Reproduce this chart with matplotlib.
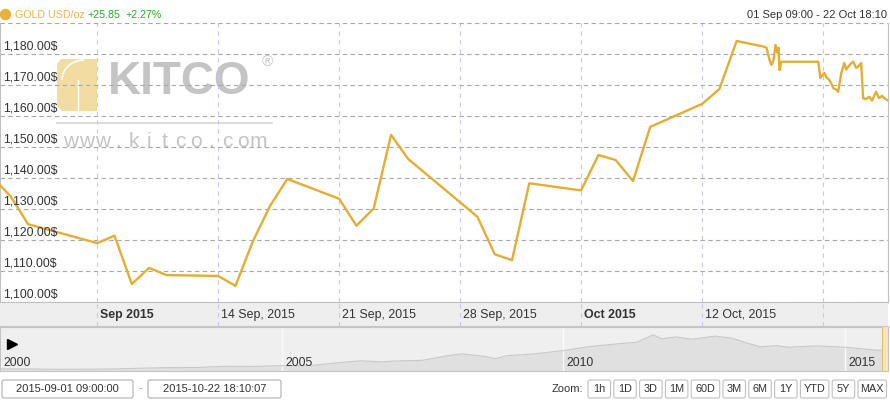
import matplotlib
matplotlib.use('Agg')
import matplotlib.pyplot as plt
import pandas as pd
from matplotlib.patches import FancyBboxPatch, Polygon, Circle, Arc
from matplotlib.transforms import ScaledTranslation, blended_transform_factory

plt.rcParams['font.family'] = ['Liberation Sans', 'DejaVu Sans']

# gold price, 01 Sep - 22 Oct 2015 (daily closes, then intraday)
price_times = [
    "2015-09-01 09:00", "2015-09-02", "2015-09-03", "2015-09-07", "2015-09-08",
    "2015-09-09", "2015-09-10", "2015-09-11", "2015-09-14", "2015-09-15",
    "2015-09-16", "2015-09-17", "2015-09-18", "2015-09-21", "2015-09-22",
    "2015-09-23", "2015-09-24", "2015-09-25", "2015-09-29", "2015-09-30",
    "2015-10-01", "2015-10-02", "2015-10-05", "2015-10-06", "2015-10-07",
    "2015-10-08", "2015-10-09", "2015-10-12", "2015-10-13", "2015-10-14",
    "2015-10-15 13:20", "2015-10-15 17:30", "2015-10-15 21:40", "2015-10-16 00:20",
    "2015-10-16 03:10", "2015-10-16 06:00", "2015-10-16 08:50", "2015-10-16 10:10",
    "2015-10-16 11:30", "2015-10-16 14:10", "2015-10-18 17:25", "2015-10-18 20:10",
    "2015-10-19 01:50", "2015-10-19 04:30", "2015-10-19 08:35", "2015-10-19 11:25",
    "2015-10-19 14:10", "2015-10-19 18:20", "2015-10-19 21:00", "2015-10-20 01:20",
    "2015-10-20 05:25", "2015-10-20 08:05", "2015-10-20 10:55", "2015-10-20 15:00",
    "2015-10-20 17:50", "2015-10-20 22:00", "2015-10-21 00:40", "2015-10-21 04:55",
    "2015-10-21 07:35", "2015-10-21 11:50", "2015-10-21 15:55", "2015-10-21 20:05",
    "2015-10-22 01:35", "2015-10-22 05:40", "2015-10-22 10:00", "2015-10-22 12:40",
    "2015-10-22 18:10",
]
prices = [
    1137.7, 1134.0, 1125.1, 1119.0, 1121.4,
    1105.8, 1111.0, 1108.7, 1108.4, 1105.2,
    1119.5, 1131.0, 1139.7, 1133.3, 1124.6,
    1130.2, 1153.9, 1146.1, 1127.5, 1115.4,
    1113.5, 1138.3, 1136.0, 1147.4, 1145.8,
    1139.0, 1156.5, 1163.9, 1168.7, 1184.2,
    1182.4, 1182.0, 1178.0, 1176.5,
    1178.0, 1182.9, 1180.3, 1182.0,
    1174.8, 1177.5, 1177.5, 1172.3,
    1173.9, 1172.5, 1171.6, 1170.5,
    1169.0, 1168.5, 1167.8, 1173.9,
    1177.1, 1175.0, 1175.9, 1177.0,
    1177.5, 1175.5, 1175.9, 1177.1,
    1165.7, 1165.5, 1166.2, 1165.0,
    1167.8, 1165.8, 1166.5, 1165.8,
    1165.0,
]

y_ticks = [1100, 1110, 1120, 1130, 1140, 1150, 1160, 1170, 1180, 1190]
week_ticks = ["2015-09-07", "2015-09-14", "2015-09-21", "2015-09-28",
              "2015-10-05", "2015-10-12", "2015-10-19"]
week_labels = ["Sep 2015", "14 Sep, 2015", "21 Sep, 2015", "28 Sep, 2015",
               "Oct 2015", "12 Oct, 2015", ""]

# navigator: long-term history
nav_years = [2000.0, 2000.5, 2001.0, 2001.5, 2002.0, 2002.5, 2003.0, 2003.5,
             2004.0, 2004.5, 2005.0, 2005.5, 2006.0, 2006.4, 2006.8, 2007.0,
             2007.5, 2008.0, 2008.2, 2008.6, 2008.8, 2009.0, 2009.5, 2010.0,
             2010.5, 2011.0, 2011.3, 2011.6, 2011.75, 2012.0, 2012.3, 2012.7,
             2013.0, 2013.3, 2013.5, 2013.8, 2014.0, 2014.5, 2015.0, 2015.3,
             2015.6, 2015.8]
nav_prices = [285, 285, 265, 270, 280, 315, 345, 350,
              400, 395, 430, 430, 560, 650, 600, 640,
              670, 900, 960, 850, 740, 880, 960, 1110,
              1300, 1420, 1480, 1820, 1640, 1720, 1620, 1760,
              1670, 1420, 1280, 1330, 1260, 1320, 1260, 1190,
              1120, 1160]
nav_ticks = [2000, 2005, 2010, 2015]

zoom_buttons = ["1h", "1D", "3D", "1M", "60D", "3M", "6M", "1Y", "YTD", "5Y", "MAX"]

GOLD = '#e5ae33'
TXT = '#333333'
W, H = 890, 400


def fbox(x0, y0, x1, y1):
    return [x0 / W, 1 - y1 / H, (x1 - x0) / W, (y1 - y0) / H]


fig = plt.figure(figsize=(8.9, 4), dpi=100)

# overlay for header / watermark / controls (pixel coordinates)
ui = fig.add_axes([0, 0, 1, 1])
ui.set_xlim(0, W)
ui.set_ylim(H, 0)
ui.axis('off')
ui.set_zorder(0)

ui.add_patch(Circle((5.5, 14.5), 5, color='#e8b33a'))
ui.text(15, 15, "GOLD USD/oz", color='#e8b74a', fontsize=7.7, va='center')
ui.text(87, 15, "+25.85", color='#22b022', fontsize=7.7, va='center')
ui.text(125, 15, "+2.27%", color='#22b022', fontsize=7.7, va='center')
ui.text(887, 14.5, "01 Sep 09:00 - 22 Oct 18:10", color=TXT, fontsize=8,
        va='center', ha='right')

# watermark
ui.add_patch(Polygon([(61, 59), (97, 59), (97, 111), (62, 111), (57, 106), (57, 64)],
                     closed=True, color='#f3dca2', lw=0))
ui.add_patch(Arc((84, 80), 44, 40, theta1=180, theta2=270, color='white', lw=1.2))
ui.plot([78, 78], [80, 111], color='white', lw=1.0)
ui.text(108, 93.5, "KITCO", color='#c4c4c4', fontsize=33, fontweight='bold',
        va='baseline', ha='left')
ui.text(262, 62, "\u00ae", color='#c6c6c6', fontsize=11, va='center', ha='left')
ui.plot([57, 272], [123, 123], color='#d6d6d6', lw=1.2)
for i, ch in enumerate("www.kitco.com"):
    ui.text(71 + i * 15.6, 147, ch, color='#c4c4c4', fontsize=15,
            va='baseline', ha='center')

# bottom controls
for (x0, x1), txt in [((2, 133), "2015-09-01 09:00:00"), ((148, 281), "2015-10-22 18:10:07")]:
    ui.add_patch(FancyBboxPatch((x0, 380), x1 - x0, 18, boxstyle='round,pad=0,rounding_size=2',
                                fc='white', ec='#b0b0b0', lw=0.8))
    ui.text((x0 + x1) / 2, 389.5, txt, fontsize=8, color=TXT, ha='center', va='center')
ui.text(140.5, 388, "-", fontsize=8, color='#999999', ha='center', va='center')
ui.text(583, 389.5, "Zoom:", fontsize=8, color=TXT, ha='right', va='center')
bx0 = 588
for b in zoom_buttons:
    bw = 28.5 if len(b) == 3 else 22.5
    ui.add_patch(FancyBboxPatch((bx0, 380), bw, 18, boxstyle='round,pad=0,rounding_size=2',
                                fc='white', ec='#c0c0c0', lw=0.8))
    ui.text(bx0 + bw / 2, 389.5, b, fontsize=7.8, color=TXT, ha='center', va='center')
    bx0 += bw + 3.3

# main chart
t = pd.to_datetime(price_times, format='mixed')
wt = pd.to_datetime(week_ticks)
ax = fig.add_axes(fbox(0, 23, 888, 302))
ax.set_zorder(2)
ax.patch.set_alpha(0)
ax.plot(t, prices, color=GOLD, lw=1.7, solid_joinstyle='round', zorder=3)
ax.set_xlim(pd.Timestamp("2015-09-01 09:00"), pd.Timestamp("2015-10-22 18:10"))
ax.set_ylim(1100, 1190)
ax.set_yticks(y_ticks)
ax.set_xticks(wt)
ax.yaxis.grid(True, color='#a8a8a8', ls=(0, (4, 3)), lw=0.8)
ax.xaxis.grid(True, color='#c8c8f2', ls=(0, (4, 4)), lw=0.8)
ax.tick_params(length=0, labelbottom=False, labelleft=False)
ax.spines['top'].set_visible(False)
for s in ['left', 'right', 'bottom']:
    ax.spines[s].set_color('#c0c0c0')
    ax.spines[s].set_linewidth(0.8)

ylab_tr = blended_transform_factory(ax.transAxes, ax.transData) + \
    ScaledTranslation(0.03, 0.08, fig.dpi_scale_trans)
for v in y_ticks[:-1]:
    ax.text(0, v, f"{v:,.2f}$", transform=ylab_tr, fontsize=8.8, color=TXT,
            ha='left', va='center')

# x label band
band = fig.add_axes(fbox(0, 302, 888, 326), sharex=ax)
band.set_facecolor('#eeeeee')
band.set_ylim(0, 1)
band.set_yticks([])
band.xaxis.grid(True, color='#c8c8f2', ls=(0, (4, 4)), lw=0.8)
band.tick_params(length=0, labelbottom=False)
for s in ['top', 'left', 'right']:
    band.spines[s].set_visible(False)
band.spines['bottom'].set_color('#c8c8c8')
xlab_tr = blended_transform_factory(band.transData, band.transAxes) + \
    ScaledTranslation(0.03, 0, fig.dpi_scale_trans)
for d, lab in zip(wt, week_labels):
    bold = not lab.split()[0].isdigit() if lab else False
    band.text(d, 0.47, lab, transform=xlab_tr, fontsize=8.9, color=TXT,
              ha='left', va='center', fontweight='bold' if bold else 'normal')

# navigator
nav = fig.add_axes(fbox(0, 327, 888, 371))
nav.set_facecolor('#efefef')
nav.fill_between(nav_years, nav_prices, 0, color='#e0e0e0', lw=0)
nav.plot(nav_years, nav_prices, color='#c8c8c8', lw=0.8)
nav.set_xlim(2000, 2015.77)
nav.set_ylim(190, 2170)
nav.set_xticks(nav_ticks)
nav.xaxis.grid(True, color='#fafafa', lw=1)
nav.tick_params(length=0, labelbottom=False, labelleft=False)
nav.set_yticks([])
for s in ['top', 'left', 'right', 'bottom']:
    nav.spines[s].set_color('#c4c4c4')
    nav.spines[s].set_linewidth(0.8)
nav.axvspan(2015.668, 2015.8, color='#f8e4b4', zorder=4)
nav.axvline(2015.668, color='#e2bd6a', lw=0.8, zorder=5)
nlab_tr = blended_transform_factory(nav.transData, nav.transAxes) + \
    ScaledTranslation(0.035, 0, fig.dpi_scale_trans)
for yr in nav_ticks:
    nav.text(yr, 0.18, str(yr), transform=nlab_tr, fontsize=8.8, color=TXT,
             ha='left', va='center', zorder=6)
nav.plot([0.013], [0.62], marker='>', color='black', ms=7, transform=nav.transAxes,
         clip_on=False)

fig.savefig('out.png', dpi=100)
